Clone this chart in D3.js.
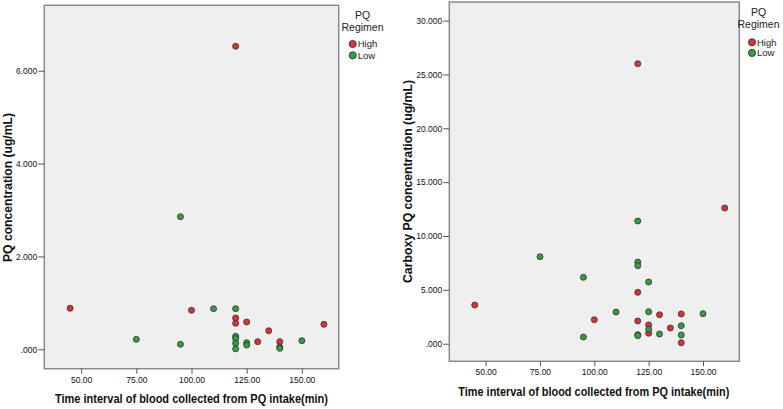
<!DOCTYPE html>
<html><head><meta charset="utf-8">
<script src="https://cdn.jsdelivr.net/npm/d3@7"></script>
<style>
html,body{margin:0;padding:0;background:#fff;}
svg{display:block;font-family:"Liberation Sans",Arial,sans-serif;}
</style></head>
<body><svg id="c" width="783" height="409"></svg>
<script>
// ---- data: left chart (PQ concentration) ----
const pqHighTime = [120, 45, 100, 120, 120, 125, 135, 130, 140, 160];
const pqHighConc = [6.526, 0.883, 0.84, 0.674, 0.56, 0.588, 0.40, 0.164, 0.164, 0.538];
const pqLowTime  = [95, 75, 95, 110, 120, 120, 120, 120, 120, 125, 125, 140, 140, 150];
const pqLowConc  = [2.856, 0.215, 0.108, 0.874, 0.874, 0.28, 0.23, 0.13, 0.01, 0.142, 0.09, 0.05, 0.02, 0.185];
// ---- data: right chart (Carboxy PQ concentration) ----
const cpqHighTime = [120, 160, 120, 45, 100, 120, 130, 140, 125, 135, 125, 140];
const cpqHighConc = [26.0, 12.6, 4.77, 3.59, 2.23, 2.11, 2.69, 2.76, 1.74, 1.46, 0.97, 0.09];
const cpqLowTime  = [120, 75, 120, 120, 95, 125, 110, 125, 150, 140, 125, 130, 120, 120, 140, 95];
const cpqLowConc  = [11.39, 8.08, 7.58, 7.25, 6.16, 5.73, 2.94, 2.97, 2.79, 1.67, 1.34, 0.90, 0.84, 0.75, 0.81, 0.62];
// ---- ticks / labels ----
const xTicks = [50, 75, 100, 125, 150];
const pqYTicks = [0, 2, 4, 6];
const cpqYTicks = [0, 5, 10, 15, 20, 25, 30];
const legendTitle = ["PQ", "Regimen"];
const groups = ["High", "Low"];
const groupColors = ["#d6363b", "#2fa045"];
const xTitle = "Time interval of blood collected from PQ intake(min)";

const svg = d3.select("#c");
const fmtY = v => d3.format(".3f")(v).replace(/^0\./, ".");
const fmtX = d3.format(".2f");

function chart(cfg) {
  const x = d3.scaleLinear().domain([33.3, 166.7]).range([cfg.left, cfg.right]);
  const y = d3.scaleLinear().domain(cfg.yDomain).range([cfg.bottom, cfg.top]);
  const g = svg.append("g");
  g.append("rect").attr("x", cfg.left).attr("y", cfg.top)
    .attr("width", cfg.right - cfg.left).attr("height", cfg.bottom - cfg.top)
    .attr("fill", "#efefef").attr("stroke", "#8a8a8a").attr("stroke-width", 1.5);

  const xa = g.append("g").attr("transform", `translate(0,${cfg.bottom})`)
    .call(d3.axisBottom(x).tickValues(xTicks).tickFormat(fmtX).tickSize(5).tickPadding(3));
  xa.select(".domain").remove();
  xa.selectAll("line").attr("stroke", "#555");
  xa.selectAll("text").attr("font-size", 8.5).attr("fill", "#111")
    .attr("font-family", "Liberation Sans, Arial, sans-serif");

  const ya = g.append("g").attr("transform", `translate(${cfg.left},0)`)
    .call(d3.axisLeft(y).tickValues(cfg.yTicks).tickFormat(fmtY).tickSize(6).tickPadding(1));
  ya.select(".domain").remove();
  ya.selectAll("line").attr("stroke", "#555");
  ya.selectAll("text").attr("font-size", 8.5).attr("fill", "#111")
    .attr("font-family", "Liberation Sans, Arial, sans-serif");

  g.append("text").attr("x", (cfg.xTitleL + cfg.xTitleR) / 2).attr("y", cfg.xTitleY)
    .attr("text-anchor", "middle").attr("font-size", 12.5).attr("font-weight", "bold")
    .attr("textLength", cfg.xTitleR - cfg.xTitleL).attr("lengthAdjust", "spacingAndGlyphs")
    .attr("fill", "#111").text(xTitle);

  g.append("text").attr("transform", `translate(${cfg.yTitleX},${(cfg.yTitleT + cfg.yTitleB) / 2}) rotate(-90)`)
    .attr("text-anchor", "middle").attr("font-size", 12.5).attr("font-weight", "bold")
    .attr("textLength", cfg.yTitleB - cfg.yTitleT).attr("lengthAdjust", "spacingAndGlyphs")
    .attr("fill", "#111").text(cfg.yTitle);

  const series = [
    {t: cfg.highT, c: cfg.highC, col: groupColors[0]},
    {t: cfg.lowT, c: cfg.lowC, col: groupColors[1]}
  ];
  series.forEach(s => {
    g.append("g").selectAll("circle").data(s.t.map((t, i) => [t, s.c[i]])).join("circle")
      .attr("cx", d => x(d[0])).attr("cy", d => y(d[1])).attr("r", 3)
      .attr("fill", s.col).attr("stroke", "#3a2a2a").attr("stroke-width", 0.8);
  });

  // legend
  const L = cfg.legend;
  g.append("text").attr("x", L.cx).attr("y", L.t1).attr("text-anchor", "middle")
    .attr("font-size", 10.5).attr("fill", "#222").text(legendTitle[0]);
  g.append("text").attr("x", L.cx).attr("y", L.t2).attr("text-anchor", "middle")
    .attr("font-size", 10.5).attr("fill", "#222").text(legendTitle[1]);
  groups.forEach((name, i) => {
    const yy = L.m0 + i * L.dm;
    g.append("circle").attr("cx", L.mx).attr("cy", yy).attr("r", 3.6)
      .attr("fill", groupColors[i]).attr("stroke", "#3a2a2a").attr("stroke-width", 0.8);
    g.append("text").attr("x", L.mx + 5).attr("y", yy + 3.4)
      .attr("font-size", 9.5).attr("fill", "#222").text(name);
  });
}

chart({
  left: 44.3, right: 338.7, top: 5.3, bottom: 368.7,
  yDomain: [-0.418, 7.409], yTicks: pqYTicks,
  highT: pqHighTime, highC: pqHighConc, lowT: pqLowTime, lowC: pqLowConc,
  xTitleL: 55, xTitleR: 328, xTitleY: 403,
  yTitle: "PQ concentration (ug/mL)", yTitleX: 12, yTitleT: 113, yTitleB: 262,
  legend: {cx: 362.5, t1: 19, t2: 30.5, mx: 352.7, m0: 44, dm: 11.3}
});

chart({
  left: 449.3, right: 739.3, top: 2, bottom: 361.3,
  yDomain: [-1.634, 31.73], yTicks: cpqYTicks,
  highT: cpqHighTime, highC: cpqHighConc, lowT: cpqLowTime, lowC: cpqLowConc,
  xTitleL: 458.3, xTitleR: 729.3, xTitleY: 396,
  yTitle: "Carboxy PQ concentration (ug/mL)", yTitleX: 412, yTitleT: 80, yTitleB: 283,
  legend: {cx: 758.5, t1: 15.5, t2: 27.5, mx: 752, m0: 42.3, dm: 10.6}
});
</script>
</body></html>
